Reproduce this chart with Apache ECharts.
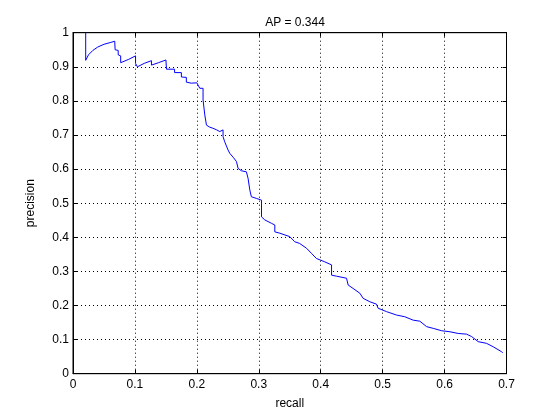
<!DOCTYPE html>
<html><head><meta charset="utf-8">
<script src="https://cdn.jsdelivr.net/npm/echarts@6/dist/echarts.min.js"></script>
<style>html,body{margin:0;padding:0;background:#fff}#c{width:560px;height:420px}</style>
</head><body><div id="c"></div>
<script>
const titleText = 'AP = 0.344';
const recall = [0.0205,0.0205,0.025,0.032,0.040,0.050,0.060,0.0674,0.068,0.073,0.073,0.077,0.077,0.090,0.101,0.101,0.104,0.104,0.115,0.1267,0.1267,0.138,0.150,0.151,0.164,0.164,0.175,0.175,0.183,0.183,0.191,0.200,0.2047,0.210,0.210,0.2128,0.2128,0.2155,0.2155,0.2208,0.2257,0.232,0.237,0.2386,0.2423,0.2423,0.245,0.245,0.2504,0.2532,0.2585,0.264,0.2666,0.272,0.280,0.2827,0.2855,0.2855,0.288,0.2908,0.2963,0.2985,0.3044,0.3044,0.3097,0.3205,0.3259,0.3259,0.334,0.350,0.358,0.366,0.377,0.385,0.393,0.4066,0.4175,0.4175,0.4255,0.4417,0.4443,0.4443,0.4523,0.4632,0.4685,0.4793,0.490,0.4927,0.5063,0.5225,0.5359,0.5493,0.560,0.571,0.5816,0.5952,0.6086,0.622,0.6355,0.6436,0.6543,0.6678,0.6785,0.692,0.694];
const precision = [1.0,0.919,0.935,0.948,0.958,0.966,0.971,0.975,0.950,0.948,0.935,0.932,0.912,0.922,0.932,0.910,0.910,0.900,0.910,0.918,0.905,0.912,0.920,0.893,0.893,0.883,0.883,0.870,0.869,0.855,0.852,0.853,0.837,0.837,0.803,0.803,0.759,0.759,0.729,0.723,0.720,0.715,0.710,0.715,0.715,0.695,0.695,0.680,0.656,0.646,0.635,0.622,0.602,0.595,0.592,0.573,0.573,0.539,0.519,0.514,0.514,0.509,0.509,0.460,0.451,0.441,0.436,0.416,0.412,0.402,0.387,0.382,0.368,0.353,0.338,0.328,0.319,0.289,0.286,0.280,0.280,0.260,0.250,0.236,0.221,0.211,0.204,0.192,0.182,0.172,0.167,0.157,0.154,0.138,0.133,0.126,0.123,0.118,0.116,0.109,0.094,0.089,0.079,0.0645,0.0616];
const xTicks = [0,0.1,0.2,0.3,0.4,0.5,0.6,0.7];
const yTicks = [0,0.1,0.2,0.3,0.4,0.5,0.6,0.7,0.8,0.9,1];

const data = recall.map((r,i)=>[r,precision[i]]);
const font = 'Liberation Sans, Arial, sans-serif';
const labelStyle = {color:'#000', fontSize:12, fontFamily:font};
const chart = echarts.init(document.getElementById('c'));
const dotted = {show:true, lineStyle:{color:'#000', type:[1,3], width:1}};
const fmt = v => String(+v.toFixed(1));
chart.setOption({
  backgroundColor:'#fff',
  animation:false,
  title:{text:titleText, left:290, top:12, textAlign:'center', textStyle:{fontSize:12, fontWeight:'normal', color:'#000', fontFamily:font}},
  grid:{left:73, right:53.5, top:32.7, bottom:46.3, show:true, borderColor:'#000', borderWidth:1},
  xAxis:[{type:'value', min:xTicks[0], max:xTicks[xTicks.length-1], interval:0.1, position:'bottom',
    name:'recall', nameLocation:'middle', nameGap:24, nameTextStyle:labelStyle,
    axisLine:{show:true, onZero:false, lineStyle:{color:'#000'}},
    axisTick:{show:true, inside:true, length:4, lineStyle:{color:'#000'}},
    axisLabel:Object.assign({margin:5, formatter:fmt}, labelStyle),
    splitLine:dotted},
    {type:'value', min:xTicks[0], max:xTicks[xTicks.length-1], interval:0.1, position:'top',
    axisLine:{show:true, onZero:false, lineStyle:{color:'#000'}},
    axisTick:{show:true, inside:true, length:4, lineStyle:{color:'#000'}},
    axisLabel:{show:false}, splitLine:{show:false}}],
  yAxis:[{type:'value', min:yTicks[0], max:yTicks[yTicks.length-1], interval:0.1, position:'left',
    name:'precision', nameLocation:'middle', nameGap:36, nameRotate:90, nameTextStyle:labelStyle,
    axisLine:{show:true, onZero:false, lineStyle:{color:'#000'}},
    axisTick:{show:true, inside:true, length:4, lineStyle:{color:'#000'}},
    axisLabel:Object.assign({margin:4, formatter:fmt}, labelStyle),
    splitLine:dotted},
    {type:'value', min:yTicks[0], max:yTicks[yTicks.length-1], interval:0.1, position:'right',
    axisLine:{show:true, onZero:false, lineStyle:{color:'#000'}},
    axisTick:{show:true, inside:true, length:4, lineStyle:{color:'#000'}},
    axisLabel:{show:false}, splitLine:{show:false}}],
  series:[{type:'line', data:data, xAxisIndex:0, yAxisIndex:0, showSymbol:false, symbol:'none',
    lineStyle:{color:'#0000ff', width:1}, z:5}]
});
</script></body></html>
